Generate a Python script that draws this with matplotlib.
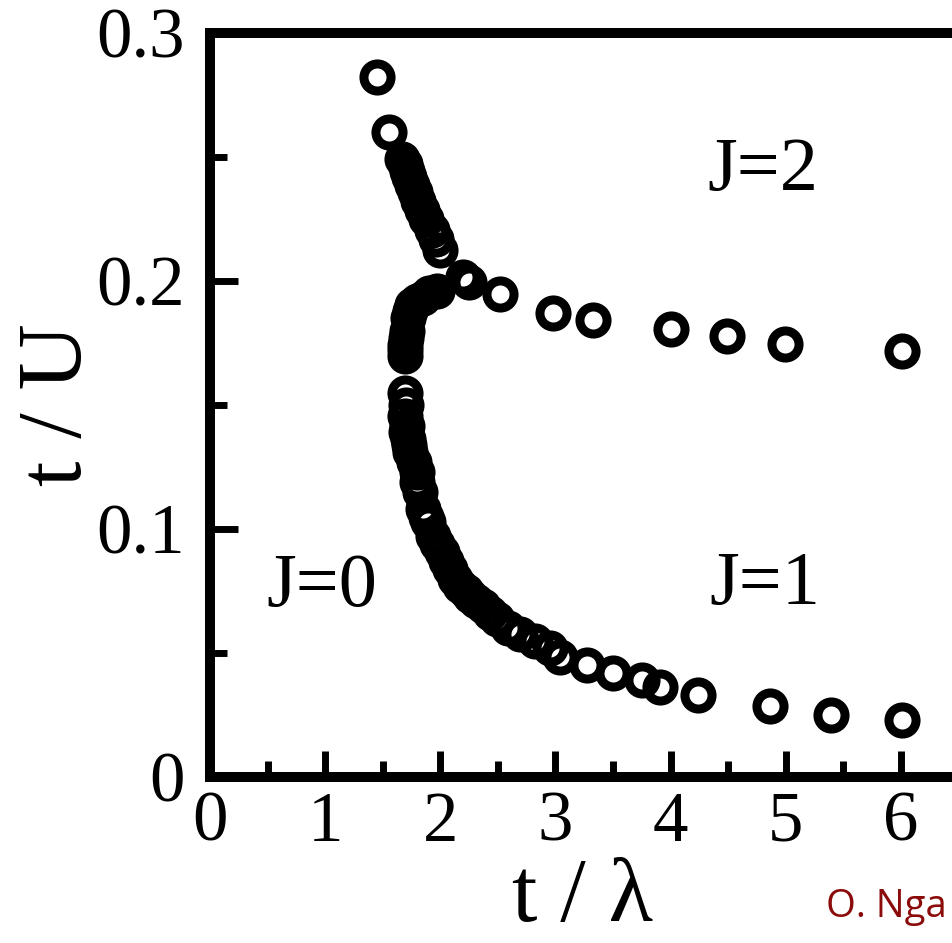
import matplotlib
matplotlib.use("Agg")
import matplotlib.pyplot as plt
from matplotlib.ticker import MultipleLocator

plt.rcParams["font.family"] = ["Liberation Serif", "DejaVu Serif"]

# upper boundary (J=0 / J=2), from the top down to the junction
upper_x = [1.45, 1.555, 1.668, 1.69, 1.712, 1.73, 1.755, 1.78, 1.807, 1.842,
           1.88, 1.929, 1.96, 1.998, 2.20, 2.25]
upper_y = [0.2822, 0.2599, 0.2490, 0.2470, 0.2445, 0.2420, 0.2389, 0.2360, 0.2324, 0.2287,
           0.2250, 0.2206, 0.2170, 0.2126, 0.2015, 0.1995]

# J=2 / J=1 boundary, to the right of the junction
right_x = [2.52, 2.98, 3.33, 4.0, 4.49, 4.99, 6.01]
right_y = [0.1947, 0.1870, 0.1842, 0.1806, 0.1777, 0.1745, 0.1717]

# lower boundary (J=0 / J=1)
lower_x = [1.972, 1.90, 1.851, 1.80, 1.755, 1.735, 1.720, 1.712, 1.70, 1.694, 1.69, 1.694,
           1.694, 1.70, 1.694, 1.705, 1.712, 1.720, 1.725, 1.738, 1.77, 1.798, 1.798, 1.824,
           1.851, 1.88, 1.894, 1.937, 1.97, 2.016, 2.05, 2.085, 2.13, 2.172, 2.22, 2.259,
           2.31, 2.372, 2.43, 2.493, 2.59, 2.693, 2.82, 2.954, 3.041, 3.275, 3.501, 3.753,
           3.91, 4.24, 4.865, 5.395, 6.01]
lower_y = [0.1960, 0.1950, 0.1931, 0.1920, 0.1903, 0.1880, 0.1850, 0.1798, 0.1770, 0.1741,
           0.1720, 0.1696,
           0.1547, 0.1500, 0.1457, 0.1390, 0.1417, 0.1364, 0.1340, 0.1312, 0.1270, 0.1231,
           0.1190, 0.1150,
           0.1081, 0.1050, 0.1028, 0.0972, 0.0940, 0.0907, 0.0870, 0.0838, 0.0800, 0.0769,
           0.0750, 0.0729,
           0.0710, 0.0688, 0.0660, 0.0636, 0.0600, 0.0575, 0.0550, 0.0522, 0.0482, 0.0453,
           0.0421, 0.0393,
           0.0364, 0.0332, 0.0287, 0.0251, 0.0231]

phase_labels = ["J=0", "J=1", "J=2"]
phase_x = [0.973, 4.82, 4.80]
phase_y = [0.0688, 0.0696, 0.2368]

fig = plt.figure(figsize=(9.53, 9.43), dpi=100)
ax = fig.add_axes([210 / 953, 1 - 777 / 943, 745 / 953, 744 / 943])

mk = dict(ls="none", marker="o", ms=19.5, mfc="none", mec="black", mew=6.5, clip_on=False)
for xs, ys in [(upper_x, upper_y), (right_x, right_y), (lower_x, lower_y)]:
    ax.plot(xs, ys, **mk)

for lab, lx, ly in zip(phase_labels, phase_x, phase_y):
    ax.text(lx, ly, lab, fontsize=55, ha="center", va="baseline")

ax.set_xlim(0, 6.47)
ax.set_ylim(0, 0.3)
ax.xaxis.set_major_locator(MultipleLocator(1))
ax.xaxis.set_minor_locator(MultipleLocator(0.5))
ax.yaxis.set_major_locator(MultipleLocator(0.1))
ax.yaxis.set_minor_locator(MultipleLocator(0.05))
ax.set_yticks([0, 0.1, 0.2, 0.3])
ax.set_yticklabels(["0", "0.1", "0.2", "0.3"])

ax.tick_params(which="both", direction="in", top=False, right=False, width=5, labelsize=51)
ax.tick_params(axis="x", which="major", length=19, pad=10)
ax.tick_params(axis="x", which="minor", length=11.5)
ax.tick_params(axis="y", which="major", length=20, pad=18)
ax.tick_params(axis="y", which="minor", length=12)

for s in ax.spines.values():
    s.set_linewidth(7.2)

ax.set_xlabel("t / λ", fontsize=66)
ax.set_ylabel("t / U", fontsize=66)
ax.xaxis.set_label_coords(0.5, -0.108)
ax.yaxis.set_label_coords(-0.148, 0.5)

fig.text(826 / 953, 1 - 917 / 943, "O. Nga", color="#8b0a0a", fontsize=27.5,
         family=["Open Sans", "DejaVu Sans"], ha="left", va="baseline")

fig.savefig("out.png", dpi=100)
